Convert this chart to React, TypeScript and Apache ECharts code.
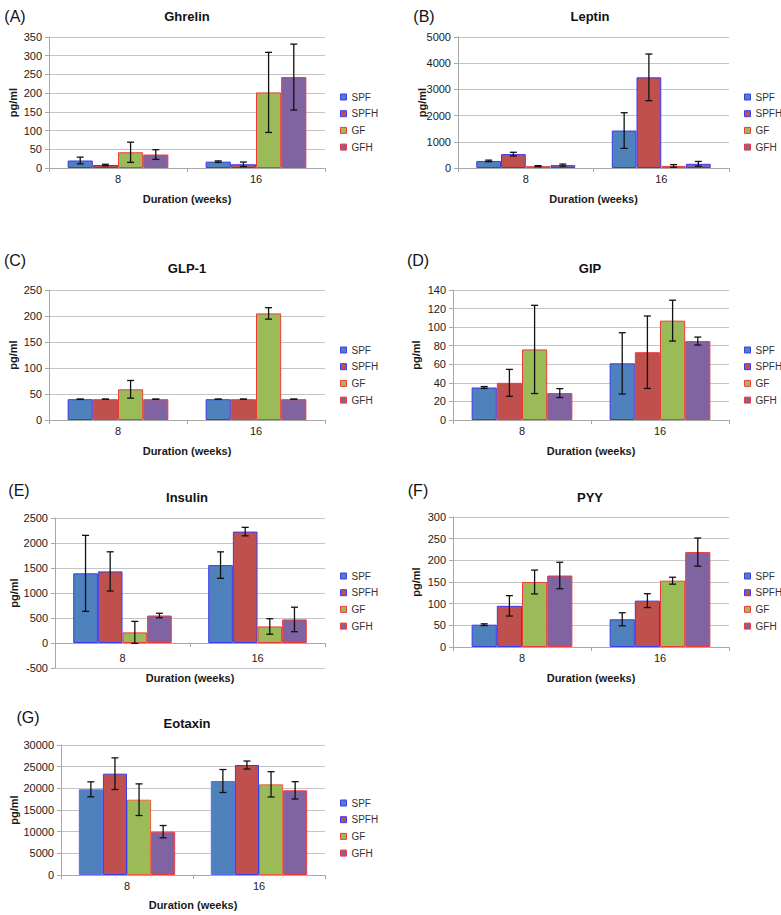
import React, { useEffect, useRef } from "react";
import * as echarts from "echarts";

// ---- data ----
const weeks = ["8", "16"];
const groups = ["SPF", "SPFH", "GF", "GFH"];

// rows: SPF, SPFH, GF, GFH ; columns: week 8, week 16
const ghrelinMean = [[20, 17], [8, 10], [42, 202], [36, 243]];
const ghrelinErr = [[9, 2], [2, 6], [27, 107], [13, 88]];
const leptinMean = [[270, 1430], [530, 3460], [70, 80], [110, 160]];
const leptinErr = [[30, 680], [70, 890], [20, 50], [40, 90]];
const glp1Mean = [[40, 40], [40, 40], [59, 205], [40, 40]];
const glp1Err = [[0, 0], [0, 0], [17, 11], [0, 0]];
const gipMean = [[35, 61], [40, 73], [76, 107], [29, 85]];
const gipErr = [[1, 33], [14.5, 39], [47.5, 22], [4.8, 4.3]];
const insulinMean = [[1393, 1558], [1432, 2228], [212, 331], [550, 471]];
const insulinErr = [[760, 265], [392, 85], [220, 155], [45, 245]];
const pyyMean = [[51.5, 64], [95, 107], [150, 153], [165, 219]];
const pyyErr = [[2, 15], [23.5, 16], [27.5, 8], [30.5, 32.5]];
const eotaxinMean = [[19770, 21690], [23380, 25380], [17380, 20920], [10000, 19540]];
const eotaxinErr = [[1730, 2650], [3650, 920], [3650, 2920], [1420, 2000]];

// y axis ranges: [min, max, interval]
const ghrelinAxis = [0, 350, 50];
const leptinAxis = [0, 5000, 1000];
const glp1Axis = [0, 250, 50];
const gipAxis = [0, 140, 20];
const insulinAxis = [-500, 2500, 500];
const pyyAxis = [0, 300, 50];
const eotaxinAxis = [0, 30000, 5000];

const X_TITLE = "Duration (weeks)";
const Y_TITLE = "pg/ml";

// ---- styling ----
const FONT = "'Liberation Sans', Arial, sans-serif";
const fills = ["#4F81BD", "#C0504D", "#9BBB59", "#8064A2"];
const BLUE = "#3a3af0";
const RED = "#f03a3a";
const legendBorders = [BLUE, BLUE, RED, RED];

// xName: null => axis name used; [x, y] => drawn as free text at that spot
const panels = [
  { letter: "(A)", title: "Ghrelin", mean: ghrelinMean, err: ghrelinErr, axis: ghrelinAxis,
    grid: [49, 37, 276, 131], lx: 15, ly: 16, tx: 187, ty: 16, legend: [340, 91], yGap: 31, xGap: 25,
    xMargin: 5, xName: null as null | number[], borders: [BLUE, BLUE, RED, RED] },
  { letter: "(B)", title: "Leptin", mean: leptinMean, err: leptinErr, axis: leptinAxis,
    grid: [458, 37, 271, 131], lx: 424, ly: 16, tx: 590, ty: 16, legend: [744, 91], yGap: 31, xGap: 25,
    xMargin: 5, xName: null, borders: [BLUE, BLUE, RED, BLUE] },
  { letter: "(C)", title: "GLP-1", mean: glp1Mean, err: glp1Err, axis: glp1Axis,
    grid: [49, 290, 276, 130], lx: 15, ly: 260, tx: 187, ty: 268, legend: [340, 344], yGap: 31, xGap: 25,
    xMargin: 5, xName: null, borders: [BLUE, RED, RED, RED] },
  { letter: "(D)", title: "GIP", mean: gipMean, err: gipErr, axis: gipAxis,
    grid: [453, 290, 276, 130], lx: 418, ly: 260, tx: 590, ty: 268, legend: [744, 344], yGap: 32, xGap: 25,
    xMargin: 5, xName: null, borders: [BLUE, RED, RED, RED] },
  { letter: "(E)", title: "Insulin", mean: insulinMean, err: insulinErr, axis: insulinAxis,
    grid: [55, 518, 270, 150], lx: 19, ly: 490, tx: 187, ty: 497, legend: [340, 570], yGap: 36, xGap: 25,
    xMargin: -16, xName: [190, 678], borders: [BLUE, BLUE, RED, RED] },
  { letter: "(F)", title: "PYY", mean: pyyMean, err: pyyErr, axis: pyyAxis,
    grid: [453, 517, 276, 130], lx: 418, ly: 490, tx: 590, ty: 497, legend: [744, 570], yGap: 32, xGap: 25,
    xMargin: 5, xName: null, borders: [BLUE, BLUE, RED, RED] },
  { letter: "(G)", title: "Eotaxin", mean: eotaxinMean, err: eotaxinErr, axis: eotaxinAxis,
    grid: [61, 745, 264, 130], lx: 28, ly: 717, tx: 187, ty: 723, legend: [340, 797], yGap: 42, xGap: 24,
    xMargin: 5, xName: null, borders: ["#5a6cf5", BLUE, "#f0603a", RED] },
];

const CAT_GAP = 0.27;

const renderErr = (params: any, api: any) => {
  const cat = api.value(0);
  const val = api.value(1);
  const err = api.value(2);
  const idx = api.value(3);
  const band = api.size([1, 0])[0];
  const groupW = band * (1 - CAT_GAP);
  const bw = groupW / 4;
  const cx = api.coord([cat, val])[0] - groupW / 2 + bw * (idx + 0.5);
  const yT = api.coord([cat, val + err])[1];
  const yB = api.coord([cat, val - err])[1];
  const style = { stroke: "#111", lineWidth: 1.3 };
  const cap = 3.5;
  return {
    type: "group",
    children: [
      { type: "line", shape: { x1: cx, y1: yT, x2: cx, y2: yB }, style },
      { type: "line", shape: { x1: cx - cap, y1: yT, x2: cx + cap, y2: yT }, style },
      { type: "line", shape: { x1: cx - cap, y1: yB, x2: cx + cap, y2: yB }, style },
    ],
  };
};

function buildOption() {
  const grid: any[] = [];
  const xAxis: any[] = [];
  const yAxis: any[] = [];
  const series: any[] = [];
  const legend: any[] = [];
  const graphic: any[] = [];
  const axisColor = "#a8a8a8";
  const labelColor = "#1a1a1a";

  panels.forEach((p, gi) => {
    const [l, t, w, h] = p.grid;
    grid.push({ left: l, top: t, width: w, height: h, containLabel: false });
    xAxis.push({
      type: "category",
      gridIndex: gi,
      data: weeks,
      axisLine: { onZero: true, lineStyle: { color: axisColor, width: 1 } },
      axisTick: { show: true, length: 4, lineStyle: { color: axisColor } },
      axisLabel: { fontSize: 11, color: labelColor, margin: p.xMargin, fontFamily: FONT },
      name: p.xName ? "" : X_TITLE,
      nameLocation: "middle",
      nameGap: p.xGap,
      nameMoveOverlap: false,
      nameTextStyle: { fontWeight: "bold", fontSize: 11, color: labelColor, fontFamily: FONT },
    });
    yAxis.push({
      type: "value",
      gridIndex: gi,
      min: p.axis[0],
      max: p.axis[1],
      interval: p.axis[2],
      axisLine: { show: true, lineStyle: { color: axisColor, width: 1 } },
      axisTick: { show: true, length: 4, lineStyle: { color: axisColor } },
      splitLine: { show: true, lineStyle: { color: "#c4c4c4", width: 1 } },
      axisLabel: {
        fontSize: 11, color: labelColor, margin: 7, fontFamily: FONT,
        formatter: (v: number) => String(v),
      },
      name: Y_TITLE,
      nameLocation: "middle",
      nameRotate: 90,
      nameGap: p.yGap,
      nameMoveOverlap: false,
      nameTextStyle: { fontWeight: "bold", fontSize: 11, color: labelColor, fontFamily: FONT },
    });
    groups.forEach((g, si) => {
      series.push({
        type: "bar",
        name: g,
        xAxisIndex: gi,
        yAxisIndex: gi,
        data: p.mean[si],
        barGap: "0%",
        barCategoryGap: CAT_GAP * 100 + "%",
        itemStyle: { color: fills[si], borderColor: p.borders[si], borderWidth: 1 },
      });
    });
    const errData: number[][] = [];
    groups.forEach((g, si) => {
      weeks.forEach((wk, ci) => {
        errData.push([ci, p.mean[si][ci], p.err[si][ci], si]);
      });
    });
    series.push({
      type: "custom",
      name: "err" + gi,
      xAxisIndex: gi,
      yAxisIndex: gi,
      renderItem: renderErr,
      data: errData,
      encode: { x: 0, y: 1 },
      z: 5,
      silent: true,
    });
    legend.push({
      orient: "vertical",
      left: p.legend[0],
      top: p.legend[1],
      padding: 0,
      itemWidth: 6,
      itemHeight: 6,
      itemGap: 4.7,
      icon: "rect",
      selectedMode: false,
      textStyle: { fontSize: 10, color: "#333", lineHeight: 12, fontFamily: FONT },
      data: groups.map((g, i) => ({
        name: g,
        itemStyle: { color: fills[i], borderColor: legendBorders[i], borderWidth: 1 },
      })),
    });
    graphic.push({
      type: "text",
      x: p.lx,
      y: p.ly,
      style: { text: p.letter, font: "16px " + FONT, fill: "#111", align: "center", verticalAlign: "middle" },
    });
    graphic.push({
      type: "text",
      x: p.tx,
      y: p.ty,
      style: { text: p.title, font: "bold 13px " + FONT, fill: "#111", align: "center", verticalAlign: "middle" },
    });
    if (p.xName) {
      graphic.push({
        type: "text",
        x: p.xName[0],
        y: p.xName[1],
        style: { text: X_TITLE, font: "bold 11px " + FONT, fill: labelColor, align: "center", verticalAlign: "middle" },
      });
    }
  });

  return {
    animation: false,
    backgroundColor: "#ffffff",
    textStyle: { fontFamily: FONT },
    grid,
    xAxis,
    yAxis,
    series,
    legend,
    graphic,
  };
}

export default function App() {
  const ref = useRef<HTMLDivElement>(null);
  useEffect(() => {
    document.body.style.margin = "0";
    if (!ref.current) return;
    const chart = echarts.init(ref.current, undefined, { renderer: "svg" });
    chart.setOption(buildOption() as any);
    return () => chart.dispose();
  }, []);
  return <div ref={ref} style={{ width: 781, height: 915, background: "#fff" }} />;
}
